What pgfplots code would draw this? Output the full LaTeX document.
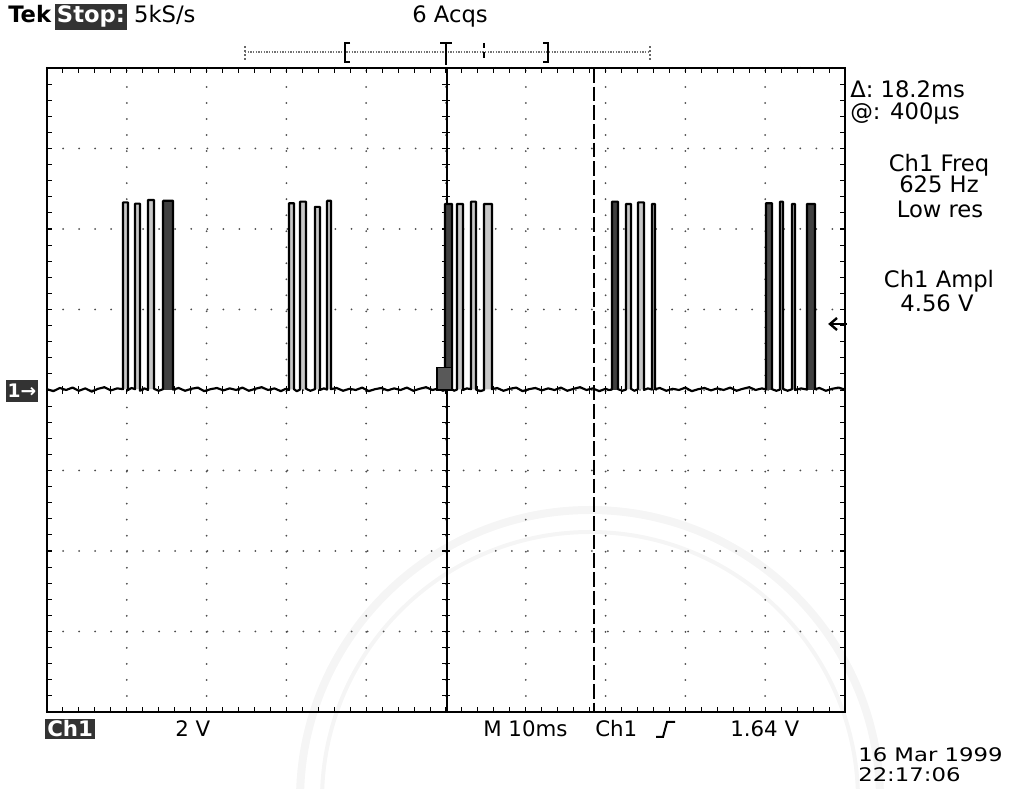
\documentclass[border=0pt]{standalone}
\usepackage{fontspec}
\setmainfont{DejaVu Sans}
\usepackage{graphicx}
\usepackage{pgfplots}
\pgfplotsset{compat=1.18}
\usepackage{pgfplotstable}

\pgfplotstableread{
t v
-50 0.02
-49.2 -0.03
-48.4 0.05
-47.6 0.00
-46.8 0.06
-46.0 -0.02
-45.2 0.04
-44.4 -0.04
-43.6 0.03
-42.8 0.07
-42.0 -0.01
-41.2 0.04
-40.48 0.02
-40.48 4.66
-39.85 4.66
-39.85 0.00
-39.4 0.05
-38.97 0.02
-38.97 4.63
-38.35 4.63
-38.35 -0.02
-37.8 0.04
-37.34 0.00
-37.34 4.72
-36.59 4.72
-36.59 0.03
-36.0 -0.02
-35.46 0.02
-35.46 4.70
-34.21 4.70
-34.21 0.01
-33.5 0.05
-32.7 -0.02
-31.9 0.03
-31.1 0.06
-30.3 -0.03
-29.5 0.02
-28.7 0.05
-27.9 -0.01
-27.1 0.04
-26.3 0.00
-25.5 0.06
-24.7 -0.02
-23.9 0.03
-23.1 0.07
-22.3 0.00
-21.5 0.04
-20.7 -0.03
-20.1 0.03
-19.67 0.00
-19.67 4.64
-19.05 4.64
-19.05 0.02
-18.7 -0.03
-18.30 0.01
-18.30 4.68
-17.54 4.68
-17.54 0.03
-17.0 -0.02
-16.42 0.02
-16.42 4.55
-15.79 4.55
-15.79 0.00
-15.3 0.04
-14.91 0.01
-14.91 4.70
-14.41 4.70
-14.41 0.02
-13.7 0.05
-12.9 -0.02
-12.1 0.03
-11.3 0.00
-10.5 0.06
-9.7 -0.03
-8.9 0.02
-8.1 0.05
-7.3 -0.01
-6.5 0.04
-5.7 0.00
-4.9 0.06
-4.1 -0.02
-3.3 0.03
-2.5 0.07
-1.7 0.00
-0.9 0.04
-0.4 -0.02
-0.13 0.00
-0.13 4.62
0.75 4.62
0.75 0.02
1.0 -0.02
1.38 0.01
1.38 4.62
2.13 4.62
2.13 0.00
2.6 0.04
3.13 0.02
3.13 4.68
3.76 4.68
3.76 0.01
4.3 -0.03
4.76 0.00
4.76 4.62
5.76 4.62
5.76 0.02
6.4 0.05
7.2 -0.02
8.0 0.03
8.8 0.06
9.6 -0.03
10.4 0.02
11.2 0.05
12.0 -0.01
12.8 0.04
13.6 0.00
14.4 0.06
15.2 -0.02
16.0 0.03
16.8 0.07
17.6 0.00
18.4 0.04
19.2 -0.03
20.0 0.03
20.4 0.00
20.80 0.01
20.80 4.68
21.55 4.68
21.55 0.02
22.1 -0.02
22.56 0.01
22.56 4.62
23.18 4.62
23.18 0.03
23.6 -0.02
24.06 0.02
24.06 4.66
24.81 4.66
24.81 0.00
25.3 0.04
25.81 0.01
25.81 4.62
26.19 4.62
26.19 0.02
26.8 0.05
27.6 -0.02
28.4 0.03
29.2 0.00
30.0 0.06
30.8 -0.03
31.6 0.02
32.4 0.05
33.2 -0.01
34.0 0.04
34.8 0.00
35.6 0.06
36.4 -0.02
37.2 0.03
38.0 0.07
38.8 0.00
39.6 0.04
40.10 0.01
40.10 4.64
40.85 4.64
40.85 0.02
41.4 -0.02
41.85 0.01
41.85 4.68
42.23 4.68
42.23 0.03
42.8 -0.02
43.36 0.02
43.36 4.62
43.73 4.62
43.73 0.00
44.5 0.04
45.24 0.01
45.24 4.62
46.24 4.62
46.24 0.02
46.8 0.05
47.6 -0.02
48.4 0.03
49.2 0.06
50.0 0.01
}\trace

\setlength{\fboxsep}{1.5pt}

\begin{document}
\begin{tikzpicture}
\useasboundingbox (0,0) rectangle (768.75pt,591.75pt);
% faint watermark arcs
\begin{scope}[x=0.75pt,y=0.75pt]
\draw[black!4, line width=6pt] (300,-11) arc[start angle=180, end angle=0, radius=290];
\draw[black!4, line width=3pt] (322,-11) arc[start angle=180, end angle=0, radius=268];
\end{scope}

\begin{axis}[
  at={(35.25pt,57.75pt)}, anchor=south west,
  scale only axis, width=598.5pt, height=483pt,
  xmin=-50, xmax=50, ymin=-8, ymax=8,
  xtick={-50,-40,...,50}, ytick={-8,-6,...,8},
  minor x tick num=4, minor y tick num=4,
  xticklabels={}, yticklabels={},
  tick align=inside, tick pos=both,
  major tick length=4pt, minor tick length=4pt,
  tick style={black, line width=0.8pt},
  grid=major,
  major grid style={black!70, line width=1.5pt, dash pattern=on 0pt off 12.02pt, line cap=round},
  axis line style={black, line width=1.5pt},
  clip=false,
]
% centre graticule ticks
\pgfplotsinvokeforeach{-48,-46,...,48}{
  \draw[black, line width=0.8pt] (axis cs:#1,-0.1) -- (axis cs:#1,0.1);
}
\pgfplotsinvokeforeach{-7.6,-7.2,...,7.6}{
  \draw[black, line width=0.8pt] (axis cs:-0.5,#1) -- (axis cs:0.5,#1);
}
% cursors
\draw[black, line width=1.6pt] (axis cs:0.1,-8) -- (axis cs:0.1,8);
\draw[black, line width=1.5pt, dash pattern=on 11pt off 3pt] (axis cs:18.6,8) -- (axis cs:18.6,-8);
% pulse interiors
\addplot[fill=black!22, draw=none] table {\trace} -- cycle;
% dense (overlapping) pulses
\addplot[fill=black!75, draw=none] coordinates {(-35.46,0) (-35.46,4.70) (-34.21,4.70) (-34.21,0)} -- cycle;
\addplot[fill=black!75, draw=none] coordinates {(-0.13,0) (-0.13,4.62) (0.75,4.62) (0.75,0)} -- cycle;
\addplot[fill=black!75, draw=none] coordinates {(20.80,0) (20.80,4.68) (21.55,4.68) (21.55,0)} -- cycle;
\addplot[fill=black!70, draw=none] coordinates {(40.10,0) (40.10,4.64) (40.85,4.64) (40.85,0)} -- cycle;
\addplot[fill=black!75, draw=none] coordinates {(45.24,0) (45.24,4.62) (46.24,4.62) (46.24,0)} -- cycle;
% trace
\addplot[black, line width=1.6pt, line join=round] table {\trace};
% trigger position marker
\draw[black, fill=black!65, line width=0.8pt] (axis cs:-1.13,0) rectangle (axis cs:0.75,0.57);
\end{axis}

\begin{scope}[x=0.75pt,y=0.75pt,
  every node/.style={inner sep=0pt, font=\fontsize{17pt}{20pt}\selectfont}]
% top line
\node[anchor=base west] at (8,766) {{\bfseries Tek}\,\colorbox{black!80}{\textcolor{white}{\bfseries Stop:}}\ 5kS/s};
\node[anchor=base] at (450,766) {6 Acqs};
\draw[black!55, line width=1.2pt, dash pattern=on 1pt off 1pt] (245,737) -- (650,737);
\draw[black!60, line width=1pt, dash pattern=on 1.5pt off 1.5pt] (245,729) -- (245,745);
\draw[black!60, line width=1pt, dash pattern=on 1.5pt off 1.5pt] (650,729) -- (650,745);
\draw[black, line width=1.4pt] (350,746) -- (345,746) -- (345,727) -- (350,727);
\draw[black, line width=1.4pt] (543,746) -- (548,746) -- (548,727) -- (543,727);
\draw[black, line width=1.4pt] (440,746) -- (452,746) (446,746) -- (446,724);
\draw[black, line width=1.2pt, dash pattern=on 4pt off 3pt] (484,746) -- (484,728);
% right readouts
\node[anchor=base west] at (850,691) {Δ: 18.2ms};
\node[anchor=base west] at (850,669) {@: 400µs};
\node[anchor=base] at (939,617) {Ch1 Freq};
\node[anchor=base] at (939,596) {625 Hz};
\node[anchor=base] at (940,571) {Low res};
\node[anchor=base] at (939,501) {Ch1 Ampl};
\node[anchor=base] at (937,477) {4.56 V};
% trigger level arrow
\draw[black, line width=1.8pt] (847,465) -- (831,465);
\draw[black, line width=1.8pt, line join=miter] (837,471) -- (830,465) -- (837,459);
% channel ground marker
\node[fill=black!80, text=white, minimum width=24pt, minimum height=17pt, font=\fontsize{14pt}{15pt}\selectfont\bfseries] at (22,398) {1→};
% bottom line
\node[anchor=base west, font=\fontsize{16pt}{18pt}\selectfont] at (45,52) {\colorbox{black!80}{\textcolor{white}{\bfseries Ch1}}};
\node[anchor=base west, font=\fontsize{16pt}{18pt}\selectfont] at (175,52) {2 V};
\node[anchor=base west, font=\fontsize{16pt}{18pt}\selectfont] at (483,52) {M 10ms};
\node[anchor=base west, font=\fontsize{16pt}{18pt}\selectfont] at (595,52) {Ch1};
\draw[black, line width=1.5pt] (656,52) -- (663,52) -- (667,67) -- (675,67);
\node[anchor=base west, font=\fontsize{16pt}{18pt}\selectfont] at (730,52) {1.64 V};
% date
\node[anchor=base west, font=\fontsize{14pt}{16pt}\selectfont] at (858,27) {\scalebox{1.22}[1]{16 Mar 1999}};
\node[anchor=base west, font=\fontsize{14pt}{16pt}\selectfont] at (858,7) {\scalebox{1.22}[1]{22:17:06}};
\end{scope}
\end{tikzpicture}
\end{document}
